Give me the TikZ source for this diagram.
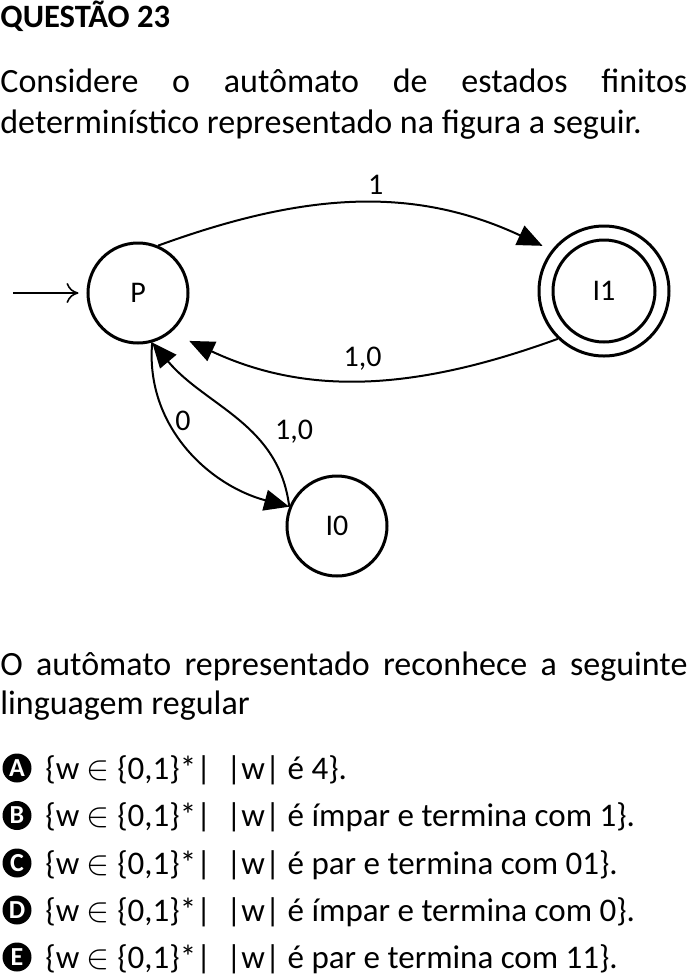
\documentclass[tikz,border=0pt]{standalone}
\usepackage{fontspec}
\setmainfont{Carlito}
\usetikzlibrary{arrows.meta}

\tikzset{
  state/.style={circle,draw,line width=1.5pt,minimum size=50pt,inner sep=0pt,font=\fontsize{15}{18}\selectfont},
  edge/.style={line width=1pt,-{Triangle[length=12.5pt,width=10.5pt]}},
  lbl/.style={font=\fontsize{15}{18}\selectfont,inner sep=1pt},
  body/.style={anchor=base west,inner sep=0pt,font=\fontsize{17}{20}\selectfont},
  opttext/.style={body,font=\fontsize{16.5}{20}\selectfont},
  optmark/.style={circle,fill=black,text=white,inner sep=0pt,minimum size=14.5pt,font=\bfseries\fontsize{13}{14}\selectfont},
}
\newcommand{\wset}{\{w\ $\in$\ \{0,1\}*|\ \ |w| é}

\begin{document}
\begin{tikzpicture}[x=0.5pt,y=-0.5pt]
  \useasboundingbox (0,0) rectangle (687,976);
  % header
  \node[body,font=\bfseries\fontsize{16.3}{20}\selectfont] (title) at (0,27) {QUESTÃO 23};
  \node[body] (intro1) at (0,92) {\makebox[343.5pt][s]{Considere o autômato de estados finitos}};
  \node[body] (intro2) at (0,133) {determinístico representado na figura a seguir.};
  % states
  \node[state] (P) at (138,293) {P};
  \node[state,minimum size=51pt] (I1) at (604,291) {I1};
  \node[state,minimum size=65pt] (I1o) at (604,291) {};
  \node[state] (I0) at (337,526) {I0};
  % initial arrow
  \coordinate (start) at (13,293);
  \draw[line width=0.8pt,-{To[length=6pt,width=10pt]},shorten >=4pt] (start) -- (P);
  % transitions
  \draw[edge,shorten >=5pt] (P.67) to[out=20,in=155]
    node[lbl,pos=0.55,above=3pt] (l1) {1} (I1o.142);
  \draw[edge,shorten >=10pt] (I1o.-134) to[out=200,in=-25]
    node[lbl,midway,above=3pt] (l10a) {1,0} (P.-50);
  \draw[edge] (P.-74) to[out=-95,in=165]
    node[lbl,pos=0.35,right=2pt] (l0) {0} (I0.158);
  \draw[edge] (I0.158) to[out=97,in=-50]
    node[lbl,pos=0.4,right=10pt] (l10b) {1,0} (P.-74);
  % question
  \node[body] (q1) at (0,675) {\makebox[343.5pt][s]{O autômato representado reconhece a seguinte}};
  \node[body] (q2) at (0,714) {linguagem regular};
  % options
  \node[optmark] (mA) at (17,768) {A};
  \node[opttext] (tA) at (45,779) {\wset{} 4\}.};
  \node[optmark] (mB) at (17,815.5) {B};
  \node[opttext] (tB) at (45,826.5) {\wset{} ímpar e termina com 1\}.};
  \node[optmark] (mC) at (17,863) {C};
  \node[opttext] (tC) at (45,874) {\wset{} par e termina com 01\}.};
  \node[optmark] (mD) at (17,910) {D};
  \node[opttext] (tD) at (45,921) {\wset{} ímpar e termina com 0\}.};
  \node[optmark] (mE) at (17,957) {E};
  \node[opttext] (tE) at (45,968) {\wset{} par e termina com 11\}.};
\end{tikzpicture}
\end{document}
